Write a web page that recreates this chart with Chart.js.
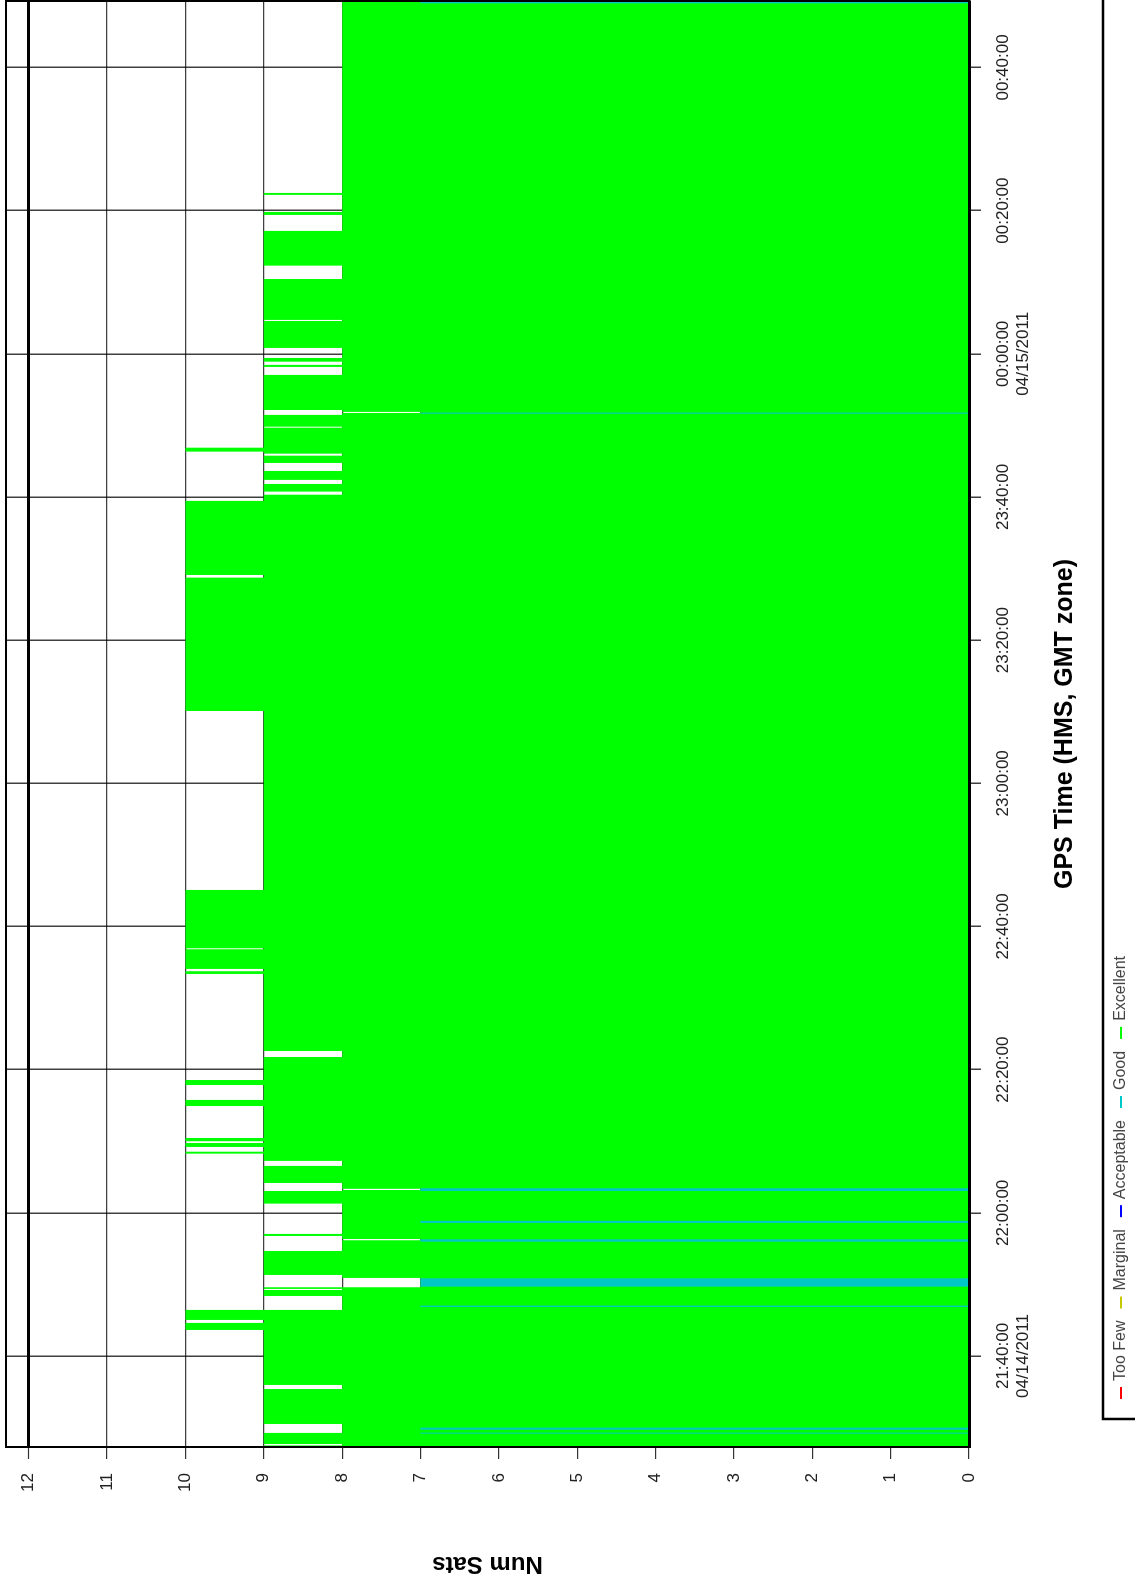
<!DOCTYPE html>
<html>
<head>
<meta charset="utf-8">
<script src="https://cdn.jsdelivr.net/npm/chart.js@4.4.1/dist/chart.umd.min.js"></script>
<style>
  html, body { margin: 0; padding: 0; background: #fff; overflow: hidden; }
  /* the chart is drawn upright, then turned a quarter turn to the left */
  #wrap { position: absolute; left: 0; top: 0; width: 1589px; height: 1135px;
          transform-origin: 0 0; transform: translate(0, 1589px) rotate(-90deg); }
</style>
</head>
<body>
<div id="wrap"><canvas id="chart" width="1589" height="1135"></canvas></div>
<script>
// time span of the plot (GPS time, 04/14 -> 04/15/2011)
const plotStart = '21:27:17';
const plotEnd = '00:49:17';

// number of satellites, each value holds until the next time
const satTimes = [
  '21:27:17', '21:27:30', '21:27:42', '21:29:15', '21:30:30', '21:35:23', '21:35:57', '21:43:38',
  '21:44:37', '21:45:02', '21:46:26', '21:48:23', '21:49:13', '21:49:22', '21:49:36', '21:50:54',
  '21:51:19', '21:54:40', '21:56:10', '21:56:20', '21:56:46', '21:57:03', '22:01:17', '22:03:03',
  '22:03:11', '22:03:21', '22:04:10', '22:06:33', '22:07:15', '22:08:16', '22:08:32', '22:09:12',
  '22:09:45', '22:10:00', '22:10:27', '22:14:55', '22:15:46', '22:17:51', '22:18:33', '22:21:46',
  '22:22:36', '22:33:22', '22:33:45', '22:34:04', '22:36:49', '22:36:57', '22:45:06', '23:10:06',
  '23:28:44', '23:29:06', '23:39:27', '23:40:19', '23:40:45', '23:41:49', '23:42:23', '23:43:38',
  '23:44:45', '23:45:46', '23:46:03', '23:46:20', '23:46:53', '23:49:41', '23:49:49', '23:51:28',
  '23:51:44', '23:51:53', '23:52:09', '23:57:03', '23:58:10', '23:58:27', '23:58:54', '23:59:25',
  '00:00:49', '00:04:35', '00:04:44', '00:10:27', '00:12:19', '00:17:10', '00:19:24', '00:19:49',
  '00:22:12', '00:22:28'
];
const satCounts = [
  9, 8, 9, 8, 9, 8, 9, 10,
  9, 10, 8, 9, 8, 9, 7, 8,
  9, 8, 7, 8, 9, 8, 9, 8,
  7, 8, 9, 8, 9, 10, 9, 10,
  9, 10, 9, 10, 9, 10, 9, 8,
  9, 10, 9, 10, 9, 10, 9, 10,
  9, 10, 9, 8, 9, 8, 9, 8,
  9, 8, 9, 10, 9, 8, 9, 8,
  7, 8, 9, 8, 9, 8, 9, 8,
  9, 8, 9, 8, 9, 8, 9, 8,
  9, 8
];

// short readings with 7 satellites ("Good" quality)
const goodStarts = ['21:29:09', '21:29:42', '21:46:51', '21:49:41', '21:55:58', '21:58:35', '22:03:03', '23:51:38', '00:48:58'];
const goodEnds   = ['21:29:17', '21:29:59', '21:47:02', '21:50:51', '21:56:18', '21:58:52', '22:03:26', '23:51:47', '00:49:17'];

const satTicks = [0, 1, 2, 3, 4, 5, 6, 7, 8, 9, 10, 11, 12];
const timeTicks = ['21:40:00', '22:00:00', '22:20:00', '22:40:00', '23:00:00', '23:20:00', '23:40:00', '00:00:00', '00:20:00', '00:40:00'];
const tickDates = ['04/14/2011', '', '', '', '', '', '', '04/15/2011', '', ''];

const qualityLabels = ['Too Few', 'Marginal', 'Acceptable', 'Good', 'Excellent'];
const qualityColors = ['#ff0000', '#c8c800', '#0000ff', '#00c8c8', '#00ff00'];

// minutes after 21:00 on 04/14
function toMin(hms) {
  const [h, m, s] = hms.split(':').map(Number);
  return (h < 12 ? h + 24 : h) * 60 + m + s / 60 - 21 * 60;
}

const excellentData = satTimes.map((t, i) => ({ x: toMin(t), y: satCounts[i] }));
excellentData.push({ x: toMin(plotEnd), y: satCounts[satCounts.length - 1] });

const goodData = [{ x: toMin(plotStart), y: 0 }];
goodStarts.forEach((t, i) => {
  goodData.push({ x: toMin(t), y: 7 });
  goodData.push({ x: toMin(goodEnds[i]), y: 0 });
});
goodData.push({ x: toMin(plotEnd), y: 0 });

const frameAndLegend = {
  id: 'frameAndLegend',
  afterDraw(chart) {
    const { ctx, chartArea: a } = chart;
    ctx.save();
    ctx.strokeStyle = '#000';
    ctx.lineWidth = 2;
    ctx.strokeRect(a.left, a.top, a.right - a.left, a.bottom - a.top);

    // legend box below the axis title
    ctx.lineWidth = 2.5;
    ctx.strokeRect(170, 1103, 1500, 60);
    ctx.font = '16px "Liberation Sans"';
    ctx.textBaseline = 'middle';
    let x = 190;
    qualityLabels.forEach((label, i) => {
      ctx.strokeStyle = qualityColors[i];
      ctx.lineWidth = 2;
      ctx.beginPath();
      ctx.moveTo(x, 1121);
      ctx.lineTo(x + 12, 1121);
      ctx.stroke();
      ctx.fillStyle = '#444';
      ctx.fillText(label, x + 18, 1121);
      x += 18 + ctx.measureText(label).width + 12;
    });
    ctx.restore();
  }
};

new Chart(document.getElementById('chart'), {
  type: 'line',
  data: {
    datasets: [
      {
        label: 'Good',
        data: goodData,
        stepped: true,
        fill: 'origin',
        backgroundColor: '#00c8c8',
        borderColor: 'rgba(0,0,0,0)',
        borderWidth: 0,
        pointRadius: 0,
      },
      {
        label: 'Excellent',
        data: excellentData,
        stepped: true,
        fill: 'origin',
        backgroundColor: '#00ff00',
        borderColor: 'rgba(0,0,0,0)',
        borderWidth: 0,
        pointRadius: 0,
      },
    ],
  },
  options: {
    responsive: false,
    animation: false,
    events: [],
    layout: { padding: { top: 6, right: 1, left: 0, bottom: 0 } },
    plugins: { legend: { display: false }, tooltip: { enabled: false } },
    scales: {
      x: {
        type: 'linear',
        min: toMin(plotStart),
        max: toMin(plotEnd),
        z: 1,
        afterBuildTicks: s => { s.ticks = timeTicks.map(t => ({ value: toMin(t) })); },
        afterFit: s => { s.height = 166; s.paddingLeft = 0; s.paddingRight = 0; },
        grid: { color: 'rgba(0,0,0,0.75)', lineWidth: 1.5, tickLength: 12 },
        border: { color: '#000', width: 3 },
        ticks: {
          autoSkip: false,
          maxRotation: 0,
          padding: 12,
          color: '#222',
          font: { family: 'Liberation Sans', size: 17 },
          callback: (v, i) => tickDates[i] ? [timeTicks[i], tickDates[i]] : timeTicks[i],
        },
        title: {
          display: true,
          text: 'GPS Time (HMS, GMT zone)',
          color: '#000',
          font: { family: 'Liberation Sans', size: 25, weight: 'bold' },
          padding: { top: 0, bottom: 55 },
        },
      },
      y: {
        min: 0,
        max: 12.29,
        z: 1,
        afterBuildTicks: s => { s.ticks = satTicks.map(v => ({ value: v })); },
        afterFit: s => { s.width = 142; s.paddingTop = 0; s.paddingBottom = 0; },
        grid: {
          color: c => c.tick && c.tick.value === 12 ? '#000' : 'rgba(0,0,0,0.75)',
          lineWidth: c => c.tick && c.tick.value === 12 ? 3 : 1.2,
          tickColor: 'rgba(0,0,0,0.8)',
          tickWidth: 1.2,
          tickLength: 12,
        },
        border: { color: '#000', width: 2 },
        ticks: {
          padding: 14,
          color: '#222',
          font: { family: 'Liberation Sans', size: 17 },
        },
        title: {
          display: true,
          text: 'Num Sats',
          color: '#000',
          font: { family: 'Liberation Sans', size: 24, weight: 'bold' },
          padding: { top: 11, bottom: 0 },
        },
      },
    },
  },
  plugins: [frameAndLegend],
});
</script>
</body>
</html>
